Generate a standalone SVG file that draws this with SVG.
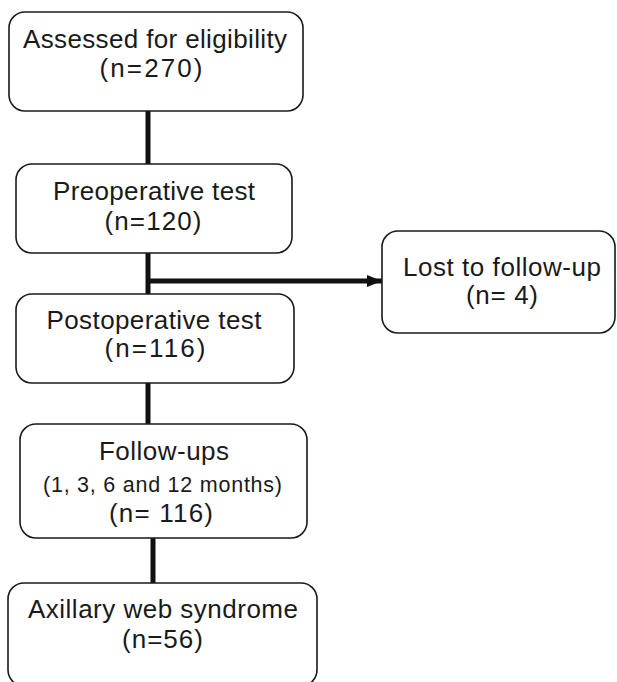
<svg xmlns="http://www.w3.org/2000/svg" width="617" height="682" viewBox="0 0 617 682">
<defs>
<style>
.box{fill:#fff;stroke:#1a1a1a;stroke-width:1.6}
.t{font-family:"Liberation Sans",Arial,Helvetica,sans-serif;font-size:26px;fill:#1a1a1a;text-anchor:middle}
.s{font-size:21.5px}
.c{stroke:#111;stroke-width:5;fill:none}
</style>
<marker id="ah" markerWidth="15" markerHeight="12" refX="15" refY="6" orient="auto" markerUnits="userSpaceOnUse">
<path d="M0,0 L15,6 L0,12 Z" fill="#111"/>
</marker>
</defs>
<rect width="617" height="682" fill="#fff"/>
<g id="connectors">
<line class="c" x1="148" y1="111" x2="148" y2="165"/>
<line class="c" x1="148" y1="253" x2="148" y2="296"/>
<line class="c" x1="148" y1="281" x2="382" y2="281" marker-end="url(#ah)"/>
<line class="c" x1="148" y1="383" x2="148" y2="425"/>
<line class="c" x1="153" y1="538" x2="153" y2="584"/>
</g>
<g id="n1">
<rect class="box" x="9" y="12" width="294" height="99" rx="16"/>
<text class="t" x="155" y="48" textLength="264">Assessed for eligibility</text>
<text class="t" x="151" y="77" textLength="103">(n=270)</text>
</g>
<g id="n2">
<rect class="box" x="16" y="164" width="276" height="89" rx="16"/>
<text class="t" x="154" y="200" textLength="202">Preoperative test</text>
<text class="t" x="153" y="230" textLength="97">(n=120)</text>
</g>
<g id="n3">
<rect class="box" x="16" y="294" width="278" height="89" rx="16"/>
<text class="t" x="154" y="329" textLength="215">Postoperative test</text>
<text class="t" x="155" y="357" textLength="101">(n=116)</text>
</g>
<g id="n4">
<rect class="box" x="382" y="231" width="233" height="102" rx="16"/>
<text class="t" x="502" y="276" textLength="198">Lost to follow-up</text>
<text class="t" x="502" y="304" textLength="72">(n= 4)</text>
</g>
<g id="n5">
<rect class="box" x="20" y="424" width="287" height="114" rx="16"/>
<text class="t" x="164" y="460" textLength="130">Follow-ups</text>
<text class="t s" x="162.5" y="492" textLength="239">(1, 3, 6 and 12 months)</text>
<text class="t" x="161" y="522" textLength="104">(n= 116)</text>
</g>
<g id="n6">
<rect class="box" x="8" y="583" width="309" height="103" rx="16"/>
<text class="t" x="163" y="618" textLength="270">Axillary web syndrome</text>
<text class="t" x="162.5" y="648" textLength="81">(n=56)</text>
</g>
</svg>
